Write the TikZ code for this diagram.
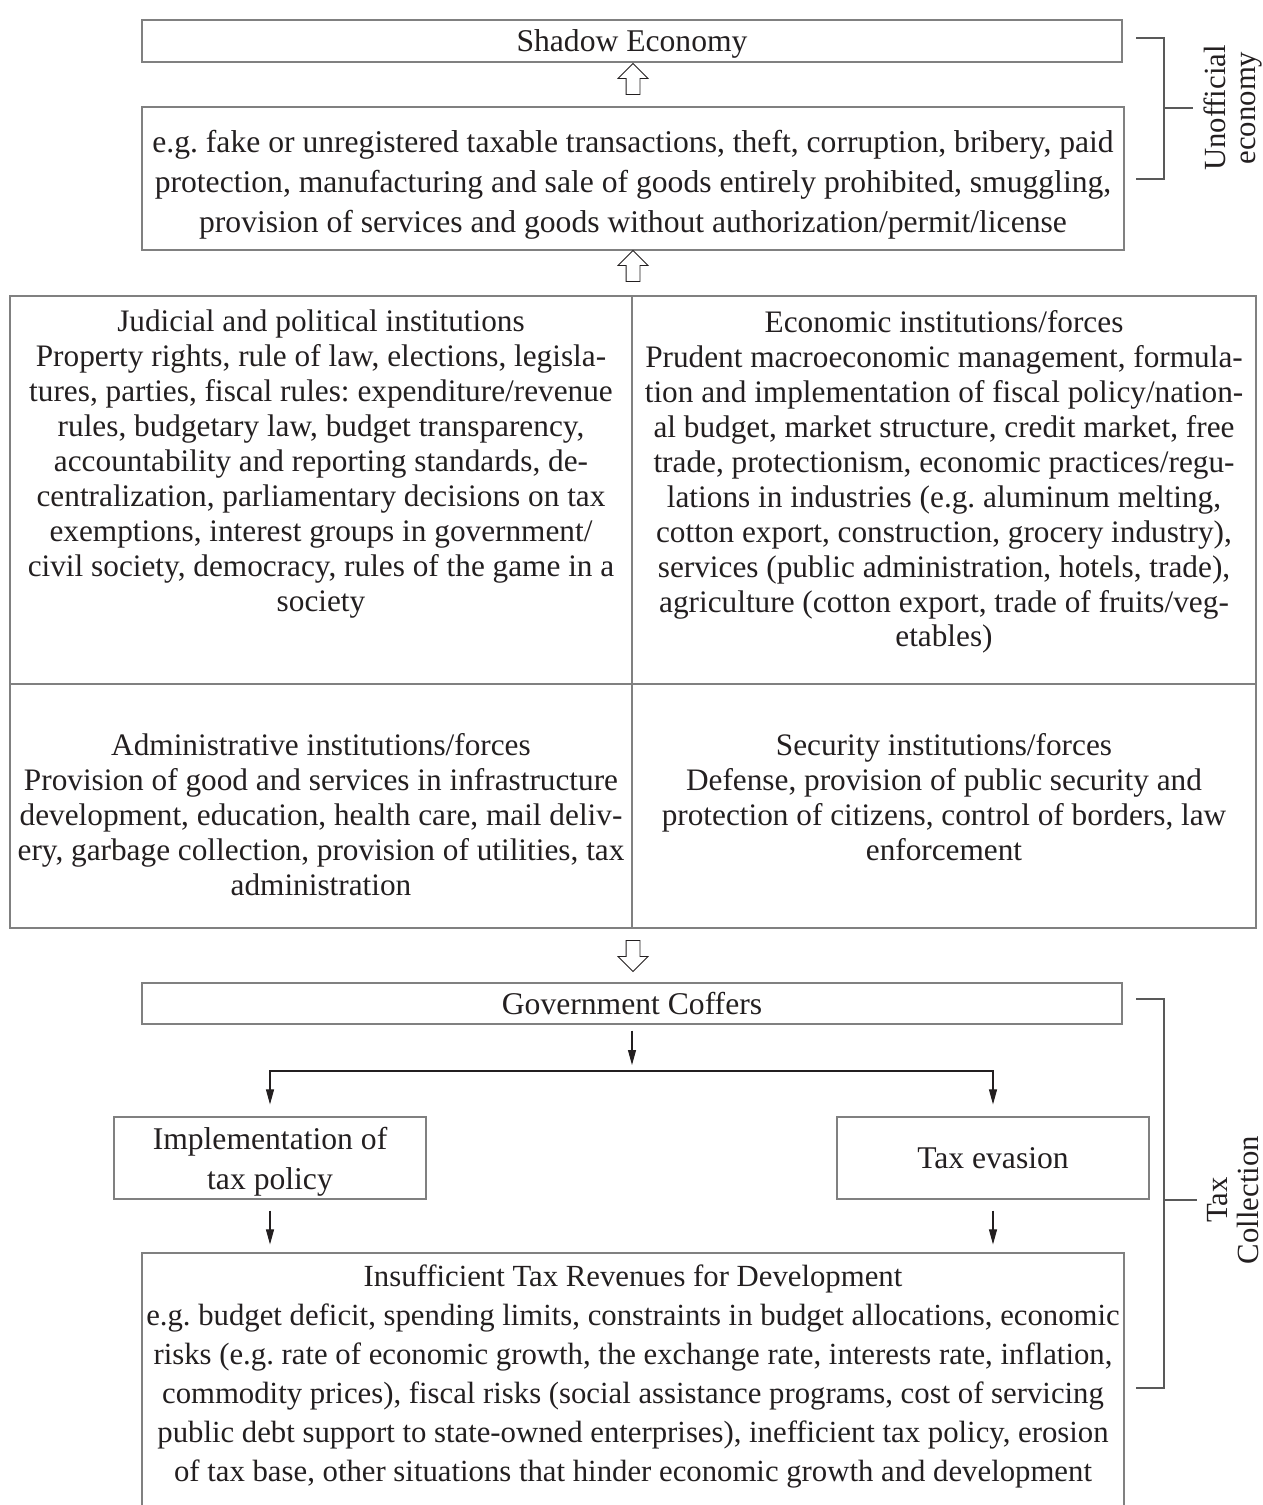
\documentclass[tikz,border=0pt]{standalone}
\usepackage{fontspec}
\setmainfont{Liberation Serif}
\usepackage{tikz}
\usetikzlibrary{arrows.meta, positioning, shapes.arrows}
\frenchspacing

\definecolor{inkdark}{HTML}{231F20}
\definecolor{boxgray}{gray}{0.5}
\definecolor{bracegray}{gray}{0.35}

\begin{document}
\begin{tikzpicture}[
    x=0.02cm, y=-0.02cm,
    box/.style={rectangle, draw=boxgray, line width=0.7pt, inner sep=0pt, align=center, text=inkdark, font=\fontsize{18}{22.8}\selectfont},
    cell/.style={rectangle, draw=boxgray, line width=0.7pt, inner sep=0pt},
    celltext/.style={align=center, inner sep=0pt, text=inkdark, font=\fontsize{17.8}{19.9}\selectfont},
    hollow/.style={single arrow, draw=inkdark, line width=0.5pt, inner sep=0.13cm, minimum height=0.62cm, minimum width=0.58cm, single arrow head extend=0.16cm},
    arrow/.style={-{Triangle[length=0.3cm, width=0.16cm]}, draw=inkdark, line width=0.6pt},
    brace/.style={draw=bracegray, line width=0.6pt},
    side/.style={rotate=90, align=center, inner sep=0.2cm, text=inkdark, font=\fontsize{17.5}{17.6}\selectfont},
]
\useasboundingbox (0,0) rectangle (1262,1505);

% Unofficial economy
\node[box, text depth=0pt, minimum width=19.6cm, minimum height=0.84cm] (shadow) at (632,41) {Shadow Economy};
\node[cell, minimum width=19.64cm, minimum height=2.86cm] (examples) at (633,178.5) {};
\node[celltext, below=0.47cm of examples.north, font=\fontsize{18}{22.8}\selectfont] (tExamples) {e.g. fake or unregistered taxable transactions, theft, corruption, bribery, paid\\protection, manufacturing and sale of goods entirely prohibited, smuggling,\\provision of services and goods without authorization/permit/license};
\node[hollow, shape border rotate=90] (up1) at (633,82.5) {};
\node[hollow, shape border rotate=90] (up2) at (633,269.5) {};

% Institutions
\node[cell, minimum width=12.44cm, minimum height=7.76cm] (cJud) at (321,490) {};
\node[cell, minimum width=12.48cm, minimum height=7.76cm] (cEco) at (944,490) {};
\node[cell, minimum width=12.44cm, minimum height=4.88cm] (cAdm) at (321,806) {};
\node[cell, minimum width=12.48cm, minimum height=4.88cm] (cSec) at (944,806) {};

\node[celltext, below=0.29cm of cJud.north] (tJud) {Judicial and political institutions\\Property rights, rule of law, elections, legisla-\\tures, parties, fiscal rules: expenditure/revenue\\rules, budgetary law, budget transparency,\\accountability and reporting standards, de-\\centralization, parliamentary decisions on tax\\exemptions, interest groups in government/\\civil society, democracy, rules of the game in a\\society};
\node[celltext, below=0.29cm of cEco.north] (tEco) {Economic institutions/forces\\Prudent macroeconomic management, formula-\\tion and implementation of fiscal policy/nation-\\al budget, market structure, credit market, free\\trade, protectionism, economic practices/regu-\\lations in industries (e.g. aluminum melting,\\cotton export, construction, grocery industry),\\services (public administration, hotels, trade),\\agriculture (cotton export, trade of fruits/veg-\\etables)};
\node[celltext, below=0.99cm of cAdm.north] (tAdm) {Administrative institutions/forces\\Provision of good and services in infrastructure\\development, education, health care, mail deliv-\\ery, garbage collection, provision of utilities, tax\\administration};
\node[celltext, below=0.99cm of cSec.north] (tSec) {Security institutions/forces\\Defense, provision of public security and\\protection of citizens, control of borders, law\\enforcement};

\node[hollow, shape border rotate=270] (down1) at (633,952.5) {};

% Tax collection
\node[box, minimum width=19.6cm, minimum height=0.82cm] (coffers) at (632,1003.5) {Government Coffers};
\coordinate (fork) at (632,1071);
\node[box, text depth=0pt, minimum width=6.24cm, minimum height=1.64cm] (policy) at (270,1158) {Implementation of\\tax policy};
\node[box, minimum width=6.24cm, minimum height=1.64cm] (evasion) at (993,1158) {Tax evasion};
\node[cell, minimum width=19.64cm, minimum height=5.1cm] (revenue) at (633,1380.5) {};
\node[celltext, below=0.25cm of revenue.north, font=\fontsize{17.5}{22.1}\selectfont] (tRev) {Insufficient Tax Revenues for Development\\e.g. budget deficit, spending limits, constraints in budget allocations, economic\\risks (e.g. rate of economic growth, the exchange rate, interests rate, inflation,\\commodity prices), fiscal risks (social assistance programs, cost of servicing\\public debt support to state-owned enterprises), inefficient tax policy, erosion\\of tax base, other situations that hinder economic growth and development};

\draw[arrow, shorten <=0.12cm, shorten >=0.12cm] (coffers.south) -- (fork);
\draw[arrow, shorten >=0.24cm] (fork) -| (policy.north);
\draw[arrow, shorten >=0.24cm] (fork) -| (evasion.north);
\draw[arrow, shorten <=0.22cm, shorten >=0.16cm] (policy.south) -- (policy.south |- revenue.north);
\draw[arrow, shorten <=0.22cm, shorten >=0.16cm] (evasion.south) -- (evasion.south |- revenue.north);

% Side brackets
\coordinate (uTop) at (1136,38);
\coordinate (uBot) at (1136,179);
\coordinate (uMid) at (1164,108);
\node[side] (uLab) at (1233,108) {Unofficial\\economy};
\draw[brace] (uTop) -- ++(28,0) |- (uBot);
\draw[brace] (uMid) -- (uLab.north);

\coordinate (tTop) at (1136,999);
\coordinate (tBot) at (1136,1388);
\coordinate (tMid) at (1164,1200);
\node[side] (tLab) at (1233,1200) {Tax\\Collection};
\draw[brace] (tTop) -- ++(28,0) |- (tBot);
\draw[brace] (tMid) -- (tLab.north);

\end{tikzpicture}
\end{document}
